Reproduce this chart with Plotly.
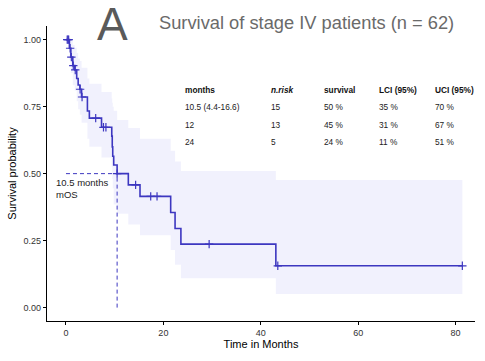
import plotly.graph_objects as go

# ---- data ----
km_time = [0, 0.7, 1.0, 1.4, 1.8, 2.2, 2.5, 2.85, 3.2, 4.4, 4.8, 7.3, 9.4, 9.5, 9.6, 9.8,
           10.5, 12.8, 15.2, 21.5, 22.4, 23.6, 43.1, 81.4]
km_surv = [1.0, 0.968, 0.935, 0.903, 0.887, 0.855, 0.831, 0.815, 0.786, 0.734, 0.707, 0.673,
           0.64, 0.60, 0.565, 0.532, 0.50, 0.458, 0.415, 0.355, 0.295, 0.237, 0.156, 0.156]
km_lci = [1.0, 0.925, 0.876, 0.83, 0.81, 0.77, 0.74, 0.72, 0.69, 0.63, 0.60, 0.56,
          0.525, 0.48, 0.445, 0.385, 0.35, 0.31, 0.27, 0.215, 0.16, 0.11, 0.051, 0.051]
km_uci = [1.0, 1.0, 0.998, 0.98, 0.97, 0.95, 0.93, 0.92, 0.895, 0.855, 0.835, 0.805,
          0.78, 0.765, 0.75, 0.735, 0.70, 0.67, 0.63, 0.585, 0.545, 0.51, 0.476, 0.476]
censor_time = [0.25, 0.4, 0.55, 0.85, 1.1, 1.5, 1.9, 2.9, 3.3, 6.1, 7.7, 8.2, 10.5,
               14.3, 17.4, 18.7, 29.4, 43.5, 81.4]

median_os = 10.5
x_ticks = [0, 20, 40, 60, 80]
y_ticks = [0.0, 0.25, 0.5, 0.75, 1.0]

tbl_header = ["months", "n.risk", "survival", "LCI (95%)", "UCI (95%)"]
tbl_months = ["10.5 (4.4-16.6)", "12", "24"]
tbl_nrisk = ["15", "13", "5"]
tbl_surv = ["50 %", "45 %", "24 %"]
tbl_lci = ["35 %", "31 %", "11 %"]
tbl_uci = ["70 %", "67 %", "51 %"]

title_text = "Survival of stage IV patients (n = 62)"
panel_letter = "A"

# ---- helpers ----
def surv_at(t):
    s = km_surv[0]
    for tt, ss in zip(km_time, km_surv):
        if tt <= t:
            s = ss
    return s

censor_surv = [surv_at(t) for t in censor_time]

COL = "#3d37c0"
FONT = "Liberation Sans, Arial, Helvetica, sans-serif"

fig = go.Figure()
# confidence band
fig.add_trace(go.Scatter(x=km_time, y=km_lci, mode="lines", line=dict(width=0, shape="hv"),
                         hoverinfo="skip", showlegend=False))
fig.add_trace(go.Scatter(x=km_time, y=km_uci, mode="lines", line=dict(width=0, shape="hv"),
                         fill="tonexty", fillcolor="rgba(60,60,230,0.07)",
                         hoverinfo="skip", showlegend=False))
# median lines
fig.add_trace(go.Scatter(x=[0, median_os], y=[0.5, 0.5], mode="lines",
                         line=dict(color=COL, width=1, dash="4px,3px"), showlegend=False))
fig.add_trace(go.Scatter(x=[median_os, median_os], y=[0, 0.5], mode="lines",
                         line=dict(color=COL, width=1, dash="4px,3px"), showlegend=False))
# KM curve
fig.add_trace(go.Scatter(x=km_time, y=km_surv, mode="lines",
                         line=dict(color=COL, width=1.6, shape="hv"), showlegend=False))
# censor marks
fig.add_trace(go.Scatter(x=censor_time, y=censor_surv, mode="markers",
                         marker=dict(symbol="cross-thin", size=6, line=dict(color=COL, width=1.2)),
                         showlegend=False))

# plot area: px x 47..475, y 26..321
L, R, T, B = 47, 485 - 475, 26, 361 - 321
PW, PH = 485 - L - R, 361 - T - B

def px(x):
    return (x - L) / PW

def py(y):
    return (361 - B - y) / PH

ann = []
ann.append(dict(text=panel_letter, x=px(112.5), y=py(24), xref="paper", yref="paper",
                xanchor="center", yanchor="middle", showarrow=False,
                font=dict(family=FONT, size=46, color="#5a5a5a")))
ann.append(dict(text=title_text, x=px(157), y=py(22.5), xref="paper", yref="paper",
                xanchor="left", yanchor="middle", showarrow=False,
                font=dict(family=FONT, size=18.3, color="#6a6a6a")))

col_x = [182.7, 269, 322.3, 377.3, 433.3]
row_y = [90, 107.3, 125, 142.3]
for j, h in enumerate(tbl_header):
    txt = "<b><i>%s</i></b>" % h if h == "n.risk" else "<b>%s</b>" % h
    ann.append(dict(text=txt, x=px(col_x[j]), y=py(row_y[0]), xref="paper", yref="paper",
                    xanchor="left", yanchor="middle", showarrow=False,
                    font=dict(family=FONT, size=8.3, color="#111")))
cols = [tbl_months, tbl_nrisk, tbl_surv, tbl_lci, tbl_uci]
for j, c in enumerate(cols):
    for i, v in enumerate(c):
        ann.append(dict(text=v, x=px(col_x[j]), y=py(row_y[i + 1]), xref="paper", yref="paper",
                        xanchor="left", yanchor="middle", showarrow=False,
                        font=dict(family=FONT, size=8.3, color="#222")))

ann.append(dict(text="10.5 months<br>mOS", x=px(54), y=py(188.5), xref="paper", yref="paper",
                xanchor="left", yanchor="middle", align="left", showarrow=False,
                font=dict(family=FONT, size=9.5, color="#222")))

fig.update_layout(
    width=485, height=361,
    margin=dict(l=L, r=R, t=T, b=B, autoexpand=False),
    paper_bgcolor="white", plot_bgcolor="white",
    annotations=ann,
    font=dict(family=FONT),
    hovermode=False,
)
fig.update_xaxes(range=[-3.9, 84.0], tickvals=x_ticks, ticktext=[str(v) for v in x_ticks],
                 automargin=False,
                 showgrid=False, zeroline=False, showline=True, linecolor="black", linewidth=1.1,
                 ticks="outside", ticklen=3, tickcolor="black", tickwidth=1,
                 tickfont=dict(family=FONT, size=9, color="#333"),
                 title=dict(text="Time in Months", font=dict(family=FONT, size=11, color="black"),
                            standoff=3))
fig.update_yaxes(range=[-0.05, 1.051], tickvals=y_ticks, ticktext=["%.2f" % v for v in y_ticks],
                 automargin=False,
                 showgrid=False, zeroline=False, showline=True, linecolor="black", linewidth=1.1,
                 ticks="outside", ticklen=3, tickcolor="black", tickwidth=1,
                 tickfont=dict(family=FONT, size=9, color="#333"),
                 title=dict(text="Survival probability", font=dict(family=FONT, size=11, color="black"),
                            standoff=4))

fig.write_html("out.html", config={"displayModeBar": False},
               post_script="document.body.style.margin='0px';document.body.style.overflow='hidden';")
